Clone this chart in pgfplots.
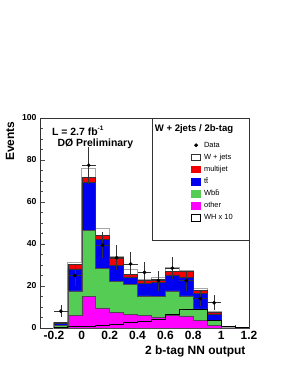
\documentclass[border=0pt]{standalone}
\usepackage{pgfplots}
\pgfplotsset{compat=1.18}
\usepackage{pgfplotstable}
\usepackage{fontspec}
\setmainfont{Liberation Sans}
\definecolor{cgreen}{RGB}{85,205,85}
\definecolor{cblue}{RGB}{0,0,240}
\definecolor{cred}{RGB}{245,0,0}
\definecolor{cmag}{RGB}{255,0,255}

\pgfplotstableread{
x mag grn blu red wht wh
-0.2 0.3 1.2 2.3 2.5 2.8 0.1
-0.1 6.0 17.7 28.2 30.3 31.1 0.5
0.0 15.0 46.6 69.2 71.6 76.2 0.8
0.1 9.6 28.5 42.1 44.2 47.2 1.2
0.2 7.5 22.2 29.8 33.3 34.1 1.8
0.3 6.6 20.6 24.4 25.7 27.8 2.5
0.4 6.1 15.3 21.4 22.5 23.3 3.0
0.5 5.3 15.1 21.8 23.0 24.0 4.0
0.6 6.0 17.7 25.3 27.0 28.6 6.3
0.7 5.8 15.3 24.0 26.8 27.5 8.9
0.8 3.7 9.1 16.6 17.9 18.7 8.9
0.9 1.4 3.8 6.7 7.3 7.8 3.8
1.0 0.0 0.0 0.0 0.0 0.3 0.8
1.1 0.0 0.0 0.0 0.0 0.2 0.3
1.2 0.0 0.0 0.0 0.0 0.2 0.3
}\stack

\pgfplotstableread{
x y ex ey
-0.15 8 0.05 2.8
-0.05 25 0.05 5.0
0.05 77.5 0.05 8.8
0.15 39.5 0.05 6.3
0.25 33.5 0.05 5.8
0.35 30.5 0.05 5.5
0.45 26.5 0.05 5.1
0.55 22.5 0.05 4.7
0.65 28.5 0.05 5.3
0.75 22.5 0.05 4.7
0.85 14 0.05 3.7
0.95 12 0.05 3.5
}\data

\begin{document}
\begin{tikzpicture}[x=1bp,y=1bp]
\path[use as bounding box] (0,0) rectangle (284,367);
\begin{axis}[
  at={(40bp,39bp)}, anchor=south west,
  scale only axis, width=209bp, height=210bp,
  xmin=-0.3, xmax=1.2, ymin=0, ymax=100,
  axis line style={line width=0.8bp, black!80},
  tick align=inside, xtick pos=bottom, ytick pos=left,
  xtick={-0.2,0,0.2,0.4,0.6,0.8,1,1.2},
  ytick={0,20,40,60,80,100},
  minor y tick num=3, minor x tick num=1,
  major tick length=5bp, minor tick length=3bp,
  tick style={line width=0.6bp, black!70},
  /pgf/number format/assume math mode=true,
  xticklabel style={font=\bfseries\fontsize{12}{14}\selectfont},
  yticklabel style={font=\bfseries\fontsize{8.7}{10}\selectfont},
  xlabel={2 b-tag NN output},
  ylabel={Events},
  xlabel style={font=\bfseries\fontsize{12}{14}\selectfont, at={(axis description cs:1,-0.113)}, anchor=east},
  ylabel style={font=\bfseries\fontsize{12}{14}\selectfont, at={(axis description cs:-0.143,1)}, anchor=east},
  legend style={draw=none, fill=none, at={(rel axis cs:0.722,0.90)}, anchor=north west,
    font=\fontsize{7.5}{9}\selectfont, row sep=0pt, column sep=0pt, inner sep=0pt,
    nodes={inner sep=0pt, minimum height=12.1bp}},
  legend cell align=left,
]
\addplot[const plot, fill=white, draw=gray!70, line width=0.9bp, forget plot] table[x=x,y=wht]{\stack} \closedcycle;
\addplot[const plot, fill=cred, draw=black!80, line width=0.5bp, forget plot] table[x=x,y=red]{\stack} \closedcycle;
\addplot[const plot, fill=cblue, draw=black!80, line width=0.5bp, forget plot] table[x=x,y=blu]{\stack} \closedcycle;
\addplot[const plot, fill=cgreen, draw=black!70, line width=0.5bp, forget plot] table[x=x,y=grn]{\stack} \closedcycle;
\addplot[const plot, fill=cmag, draw=black!70, line width=0.5bp, forget plot] table[x=x,y=mag]{\stack} \closedcycle;
\addplot[const plot, draw=black, line width=1bp, forget plot] table[x=x,y=wh]{\stack};
\addplot[only marks, mark=*, mark size=1.7bp, black, forget plot,
  error bars/.cd, x dir=both, x explicit, y dir=both, y explicit,
  error bar style={line width=0.6bp, black!80}, error mark=none]
  table[x=x, y=y, x error=ex, y error=ey]{\data};

\addlegendimage{legend image code/.code={\fill[black] (4.5bp,0bp) circle (1.7bp);}}
\addlegendentry{\hspace{3bp}Data}
\addlegendimage{legend image code/.code={\draw[black!80, line width=0.5bp, fill=white] (0bp,-3.2bp) rectangle (9bp,3.2bp);}}
\addlegendentry{\hspace{3bp}W + jets}
\addlegendimage{legend image code/.code={\fill[cred] (0bp,-3.2bp) rectangle (9bp,3.2bp);}}
\addlegendentry{\hspace{3bp}multijet}
\addlegendimage{legend image code/.code={\fill[cblue] (0bp,-3.2bp) rectangle (9bp,3.2bp);}}
\addlegendentry{\hspace{3bp}t\={t}}
\addlegendimage{legend image code/.code={\fill[cgreen] (0bp,-3.2bp) rectangle (9bp,3.2bp);}}
\addlegendentry{\hspace{3bp}Wb\={b}}
\addlegendimage{legend image code/.code={\fill[cmag] (0bp,-3.2bp) rectangle (9bp,3.2bp);}}
\addlegendentry{\hspace{3bp}other}
\addlegendimage{legend image code/.code={\draw[black, line width=1bp, fill=white] (0bp,-3.2bp) rectangle (9bp,3.2bp);}}
\addlegendentry{\hspace{3bp}WH x 10}

\draw[black!80, line width=0.8bp] (rel axis cs:0.536,0.419) rectangle (rel axis cs:1,1);
\node[font=\bfseries\fontsize{9.6}{11}\selectfont] at (rel axis cs:0.737,0.948) {W + 2jets / 2b-tag};
\node[font=\bfseries\fontsize{10.5}{12}\selectfont, anchor=west, inner sep=0pt] at (rel axis cs:0.057,0.938) {L = 2.7 fb\raisebox{0.9ex}{\fontsize{6.5}{7}\selectfont -1}};
\node[font=\bfseries\fontsize{10.5}{12}\selectfont, anchor=west, inner sep=0pt] at (rel axis cs:0.083,0.876) {DØ Preliminary};
\end{axis}
\end{tikzpicture}
\end{document}
